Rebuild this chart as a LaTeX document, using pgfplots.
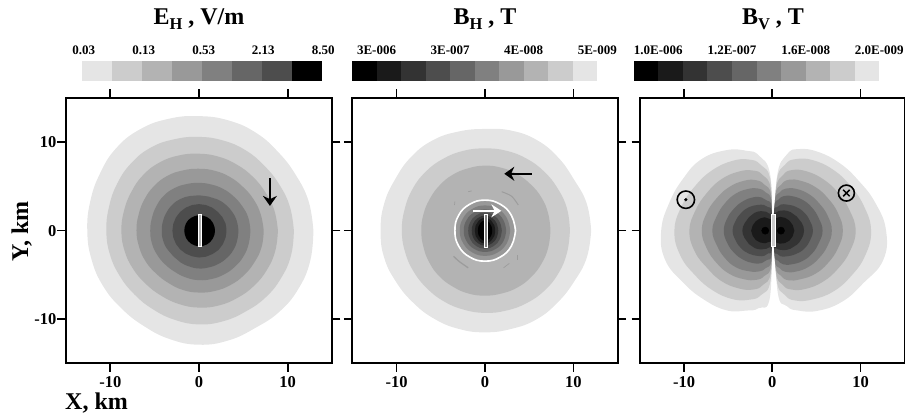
\documentclass[border=0pt]{standalone}
\usepackage{fontspec}
\setmainfont{Liberation Serif}
\usepackage{pgfplots}
\usepackage{pgfplotstable}
\pgfplotsset{compat=1.18}
\usetikzlibrary{arrows.meta}
\definecolor{g1}{HTML}{E5E5E5}
\definecolor{g2}{HTML}{CCCCCC}
\definecolor{g3}{HTML}{B3B3B3}
\definecolor{g4}{HTML}{999999}
\definecolor{g5}{HTML}{808080}
\definecolor{g6}{HTML}{666666}
\definecolor{g7}{HTML}{4D4D4D}
\definecolor{g8}{HTML}{333333}
\definecolor{g9}{HTML}{1A1A1A}
\definecolor{g0}{HTML}{000000}

% Panel 1: contour radius (km) against angle (deg)
\pgfplotstableread{
theta c1 c2 c3 c4 c5 c6 c7 c8
0 12.9 10.7 8.9 7.3 5.8 4.45 3.1 1.8
15 12.8 10.6 8.8 7.2 5.75 4.4 3.1 1.8
30 12.6 10.45 8.65 7.1 5.6 4.3 3.05 1.8
45 12.6 10.4 8.6 7.0 5.5 4.2 3.0 1.8
60 12.8 10.5 8.6 7.0 5.45 4.1 3.0 1.78
75 12.9 10.55 8.65 7.0 5.4 4.0 3.0 1.75
90 12.95 10.6 8.7 7.0 5.4 4.0 3.0 1.75
105 13.1 10.7 8.8 7.05 5.45 4.05 3.0 1.72
120 13.25 10.85 8.9 7.15 5.55 4.15 3.0 1.7
135 13.2 10.8 8.9 7.15 5.6 4.2 3.0 1.7
150 12.9 10.65 8.8 7.1 5.55 4.2 3.0 1.68
165 12.7 10.5 8.75 7.05 5.5 4.2 3.0 1.66
180 12.6 10.45 8.75 7.05 5.5 4.2 3.0 1.66
195 12.55 10.4 8.7 7.0 5.5 4.2 3.0 1.66
210 12.5 10.3 8.6 6.95 5.45 4.15 3.0 1.68
225 12.4 10.25 8.5 6.85 5.4 4.1 3.0 1.7
240 12.45 10.3 8.5 6.85 5.4 4.15 3.0 1.72
255 12.7 10.45 8.6 6.95 5.5 4.2 3.0 1.75
270 12.9 10.6 8.7 7.0 5.6 4.28 3.04 1.75
285 12.85 10.6 8.75 7.05 5.65 4.3 3.05 1.78
300 12.7 10.55 8.75 7.1 5.7 4.35 3.05 1.8
315 12.9 10.65 8.8 7.15 5.75 4.4 3.1 1.8
330 13.0 10.7 8.85 7.2 5.8 4.45 3.1 1.8
345 13.0 10.75 8.9 7.3 5.8 4.45 3.1 1.8
360 12.9 10.7 8.9 7.3 5.8 4.45 3.1 1.8
}\tabA
% Panel 2: outer contours
\pgfplotstableread{
theta c1 c2 c3
0 12.0 9.6 7.4
15 11.9 9.6 7.4
30 11.6 9.5 7.4
45 11.7 9.45 7.35
60 11.8 9.4 7.35
75 11.7 9.35 7.35
90 11.5 9.3 7.35
105 11.6 9.35 7.3
120 11.8 9.4 7.3
135 11.8 9.45 7.25
150 11.7 9.45 7.2
165 11.8 9.4 7.2
180 11.8 9.4 7.2
195 11.8 9.35 7.2
210 11.6 9.3 7.25
225 11.5 9.25 7.3
240 11.5 9.25 7.3
255 11.5 9.25 7.35
270 11.5 9.3 7.35
285 11.5 9.35 7.35
300 11.6 9.45 7.4
315 11.55 9.55 7.4
330 11.6 9.6 7.4
345 11.9 9.6 7.4
360 12.0 9.6 7.4
}\tabB
% Panel 2: contours inside the ring
\pgfplotstableread{
theta ring c4 c5 c6 c7 c8 c9 c10
0 3.45 3.35 2.85 2.4 1.9 1.5 1.15 0.8
30 3.45 3.35 2.85 2.4 1.93 1.55 1.22 0.87
60 3.45 3.35 2.85 2.4 2.0 1.63 1.35 1.03
90 3.45 3.35 2.85 2.4 2.05 1.7 1.45 1.15
120 3.45 3.35 2.85 2.4 2.0 1.63 1.35 1.03
150 3.45 3.35 2.85 2.4 1.93 1.55 1.22 0.87
180 3.4 3.3 2.85 2.4 1.9 1.5 1.15 0.8
210 3.45 3.35 2.85 2.4 1.93 1.55 1.22 0.87
240 3.45 3.35 2.85 2.4 2.0 1.63 1.35 1.03
270 3.45 3.35 2.85 2.4 2.05 1.7 1.45 1.15
300 3.45 3.35 2.85 2.4 2.0 1.63 1.35 1.03
330 3.45 3.35 2.85 2.4 1.93 1.55 1.22 0.87
360 3.45 3.35 2.85 2.4 1.9 1.5 1.15 0.8
}\tabC
% Panel 3: right lobe
\pgfplotstableread{
theta c1 c2 c3 c4 c5 c6 c7 c8 c9
0 0.3 0.3 0.3 0.3 0.3 0.3 0.3 0.3 0.3
85 6.2 5.6 4.7 4.0 3.4 2.85 2.3 1.8 1.2
79 8.8 7.6 6.4 5.3 4.4 3.55 2.7 2.05 1.3
72 9.7 8.5 7.2 6.05 5.0 4.1 3.1 2.35 1.5
60 10.3 9.2 7.75 6.5 5.45 4.5 3.4 2.65 1.8
45 10.8 9.75 8.2 6.95 5.85 4.9 3.8 2.95 2.05
30 11.3 10.2 8.6 7.3 6.15 5.2 4.15 3.2 2.25
15 12.1 10.75 9.05 7.7 6.5 5.45 4.4 3.45 2.4
0 12.9 11.2 9.45 8.0 6.75 5.7 4.6 3.6 2.5
-15 13.0 10.9 9.1 7.7 6.5 5.45 4.4 3.45 2.4
-30 11.9 10.3 8.6 7.3 6.15 5.2 4.15 3.2 2.25
-45 11.3 9.75 8.15 6.9 5.8 4.85 3.75 2.9 2.0
-60 10.45 9.0 7.6 6.35 5.35 4.4 3.35 2.55 1.7
-72 9.5 8.3 7.0 5.9 4.9 4.0 3.05 2.25 1.4
-79 8.7 7.4 6.25 5.2 4.3 3.45 2.65 2.0 1.25
-85 7.0 5.6 4.7 4.0 3.4 2.85 2.3 1.8 1.2
0 0.3 0.3 0.3 0.3 0.3 0.3 0.3 0.3 0.3
}\tabD
% Panel 3: left lobe
\pgfplotstableread{
theta c1 c2 c3 c4 c5 c6 c7 c8 c9
180 0.1 0.1 0.1 0.1 0.1 0.1 0.1 0.1 0.1
92 6.2 5.6 4.7 4.0 3.4 2.8 2.25 1.7 1.15
100 8.6 7.55 6.4 5.3 4.4 3.45 2.7 1.95 1.3
108 9.5 8.45 7.15 6.0 5.0 3.95 3.05 2.25 1.45
120 10.5 9.1 7.7 6.5 5.45 4.35 3.35 2.55 1.75
135 11.4 9.65 8.2 6.95 5.9 4.7 3.75 2.85 1.95
150 11.7 10.1 8.55 7.3 6.2 5.0 4.05 3.05 2.15
165 12.1 10.65 9.0 7.7 6.5 5.3 4.3 3.25 2.3
180 12.6 11.1 9.4 8.0 6.8 5.5 4.5 3.4 2.4
195 12.6 10.8 9.1 7.7 6.5 5.3 4.3 3.25 2.3
210 11.7 10.1 8.5 7.3 6.2 5.0 4.05 3.05 2.15
225 11.0 9.55 8.1 6.9 5.85 4.65 3.7 2.8 1.9
240 10.4 8.95 7.55 6.35 5.3 4.25 3.3 2.45 1.65
252 9.5 8.2 7.0 5.85 4.85 3.85 3.0 2.15 1.35
260 8.9 7.4 6.25 5.2 4.3 3.35 2.6 1.9 1.25
268 7.5 5.6 4.7 4.0 3.4 2.8 2.25 1.7 1.15
180 0.1 0.1 0.1 0.1 0.1 0.1 0.1 0.1 0.1
}\tabE

\pgfplotsset{
  panel/.style={
    scale only axis, height=265.3pt,
    xmin=-15, xmax=15, ymin=-15, ymax=15,
    axis line style={line width=1.7pt},
    tick align=outside, major tick length=8.5pt,
    tick style={line width=1.7pt, black},
    xtick={-10,0,10}, ytick={-10,0,10},
    xticklabels={-10,0,10},
    yticklabels={},
    xticklabel pos=lower,
    tick label style={font=\bfseries\fontsize{16.5}{18}\selectfont},
    xticklabel style={yshift=-1.5pt},
    axis on top, clip=true,
  },
  bar/.style={
    scale only axis, height=20pt, hide axis, clip=false,
    ymin=0, ymax=1,
  },
  cf/.style={draw=none, fill=#1, smooth, tension=0.75, data cs=polar},
  cell/.style={draw=none, fill=#1},
}
\newcommand{\cellat}[3]{\addplot[cell=#3] coordinates {(#1,0) (#2,0) (#2,1) (#1,1)} --cycle;}
\newcommand{\barlabel}[2]{\node[anchor=base, font=\bfseries\fontsize{13}{14}\selectfont, inner sep=0pt] at (axis cs:#1,1.32) {#2};}

\begin{document}
\begin{tikzpicture}[x=1pt,y=1pt]
\path[use as bounding box] (0pt,0pt) rectangle (905pt,417pt);

% ---------- colour bars
\begin{axis}[bar, at={(81.7pt,336.3pt)}, width=240pt, xmin=0, xmax=8]
\cellat{0}{1}{g1}\cellat{1}{2}{g2}\cellat{2}{3}{g3}\cellat{3}{4}{g4}
\cellat{4}{5}{g5}\cellat{5}{6}{g6}\cellat{6}{7}{g7}\cellat{7}{8}{g0}
\barlabel{0.07}{0.03}\barlabel{2.07}{0.13}\barlabel{4.07}{0.53}\barlabel{6.05}{2.13}\barlabel{8.05}{8.50}
\end{axis}
\begin{axis}[bar, at={(352pt,336.3pt)}, width=245.3pt, xmin=0, xmax=10]
\cellat{0}{1}{g0}\cellat{1}{2}{g9}\cellat{2}{3}{g8}\cellat{3}{4}{g7}\cellat{4}{5}{g6}
\cellat{5}{6}{g5}\cellat{6}{7}{g4}\cellat{7}{8}{g3}\cellat{8}{9}{g2}\cellat{9}{10}{g1}
\barlabel{1}{3E-006}\barlabel{4}{3E-007}\barlabel{7}{4E-008}\barlabel{10}{5E-009}
\end{axis}
\begin{axis}[bar, at={(633.7pt,336.3pt)}, width=245.6pt, xmin=0, xmax=10]
\cellat{0}{1}{g0}\cellat{1}{2}{g9}\cellat{2}{3}{g8}\cellat{3}{4}{g7}\cellat{4}{5}{g6}
\cellat{5}{6}{g5}\cellat{6}{7}{g4}\cellat{7}{8}{g3}\cellat{8}{9}{g2}\cellat{9}{10}{g1}
\barlabel{1}{1.0E-006}\barlabel{4}{1.2E-007}\barlabel{7}{1.6E-008}\barlabel{10}{2.0E-009}
\end{axis}

% ---------- panel 1
\begin{axis}[panel, at={(66pt,53.7pt)}, width=266pt,
    yticklabels={-10,0,10},
    yticklabel style={inner sep=1pt}]
\addplot[cf=g1] table[x=theta,y=c1]{\tabA} --cycle;
\addplot[cf=g2] table[x=theta,y=c2]{\tabA} --cycle;
\addplot[cf=g3] table[x=theta,y=c3]{\tabA} --cycle;
\addplot[cf=g4] table[x=theta,y=c4]{\tabA} --cycle;
\addplot[cf=g5] table[x=theta,y=c5]{\tabA} --cycle;
\addplot[cf=g6] table[x=theta,y=c6]{\tabA} --cycle;
\addplot[cf=g7] table[x=theta,y=c7]{\tabA} --cycle;
\addplot[cf=g0] table[x=theta,y=c8]{\tabA} --cycle;
\addplot[draw=white, fill=g3, line width=0.8pt] coordinates {(-0.08,1.87) (0.3,1.87) (0.3,-1.83) (-0.08,-1.83)} --cycle;
\addplot[black, line width=2.2pt, -{Stealth[length=10pt,width=14pt]}] coordinates {(8.0,5.9) (8.0,2.8)};
\end{axis}

% ---------- panel 2
\begin{axis}[panel, at={(352.3pt,53.7pt)}, width=265.4pt]
\addplot[cf=g1] table[x=theta,y=c1]{\tabB} --cycle;
\addplot[cf=g2] table[x=theta,y=c2]{\tabB} --cycle;
\addplot[cf=g3] table[x=theta,y=c3]{\tabB} --cycle;
\addplot[color=g4!90!g3, line width=1pt, smooth] coordinates {(1.89,4.4) (3.0,3.9) (3.76,2.9)};
\addplot[color=g4!90!g3, line width=1.3pt, smooth] coordinates {(-3.55,-2.9) (-2.9,-3.5) (-1.9,-4.2)};
\addplot[color=g4!90!g3, line width=0.7pt] coordinates {(3.6,-2.8) (3.6,-3.3)};
\addplot[color=g4!90!g3, line width=0.7pt] coordinates {(2.1,-4.2) (2.75,-3.7)};
\addplot[color=g4!90!g3, line width=0.7pt] coordinates {(-3.4,3.3) (-3.45,2.9)};
\addplot[color=g4!90!g3, line width=0.7pt] coordinates {(-1.9,4.4) (-1.5,4.5)};
\addplot[cf=g4] table[x=theta,y=c4]{\tabC} --cycle;
\addplot[cf=g5] table[x=theta,y=c5]{\tabC} --cycle;
\addplot[cf=g6] table[x=theta,y=c6]{\tabC} --cycle;
\addplot[cf=g7] table[x=theta,y=c7]{\tabC} --cycle;
\addplot[cf=g8] table[x=theta,y=c8]{\tabC} --cycle;
\addplot[cf=g9] table[x=theta,y=c9]{\tabC} --cycle;
\addplot[cf=g0] table[x=theta,y=c10]{\tabC} --cycle;
\addplot[white, line width=1.6pt, smooth, tension=0.75, data cs=polar] table[x=theta,y=ring]{\tabC} --cycle;
\addplot[draw=white, fill=g5, line width=0.8pt] coordinates {(-0.08,1.8) (0.3,1.8) (0.3,-1.87) (-0.08,-1.87)} --cycle;
\addplot[white, line width=2.6pt, -{Stealth[length=10pt,width=13pt]}] coordinates {(-1.32,2.24) (1.85,2.24)};
\addplot[black, line width=2.2pt, -{Stealth[length=10pt,width=14pt]}] coordinates {(5.28,6.43) (2.18,6.43)};
\end{axis}

% ---------- panel 3
\begin{axis}[panel, at={(640pt,53.7pt)}, width=264.6pt, ytick pos=left]
\addplot[cf=g1] table[x=theta,y=c1]{\tabD} --cycle;
\addplot[cf=g2] table[x=theta,y=c2]{\tabD} --cycle;
\addplot[cf=g3] table[x=theta,y=c3]{\tabD} --cycle;
\addplot[cf=g4] table[x=theta,y=c4]{\tabD} --cycle;
\addplot[cf=g5] table[x=theta,y=c5]{\tabD} --cycle;
\addplot[cf=g6] table[x=theta,y=c6]{\tabD} --cycle;
\addplot[cf=g7] table[x=theta,y=c7]{\tabD} --cycle;
\addplot[cf=g8] table[x=theta,y=c8]{\tabD} --cycle;
\addplot[cf=g9] table[x=theta,y=c9]{\tabD} --cycle;
\addplot[cf=g1] table[x=theta,y=c1]{\tabE} --cycle;
\addplot[cf=g2] table[x=theta,y=c2]{\tabE} --cycle;
\addplot[cf=g3] table[x=theta,y=c3]{\tabE} --cycle;
\addplot[cf=g4] table[x=theta,y=c4]{\tabE} --cycle;
\addplot[cf=g5] table[x=theta,y=c5]{\tabE} --cycle;
\addplot[cf=g6] table[x=theta,y=c6]{\tabE} --cycle;
\addplot[cf=g7] table[x=theta,y=c7]{\tabE} --cycle;
\addplot[cf=g8] table[x=theta,y=c8]{\tabE} --cycle;
\addplot[cf=g9] table[x=theta,y=c9]{\tabE} --cycle;
\addplot[only marks, mark=*, mark size=3.6pt, mark options={draw=g0, fill=g0}] coordinates {(-0.8,0) (0.98,0)};
\addplot[draw=white, fill=g2, line width=0.8pt] coordinates {(-0.05,1.87) (0.34,1.87) (0.34,-1.83) (-0.05,-1.83)} --cycle;
\addplot[only marks, mark=o, mark size=8.7pt, mark options={line width=1.6pt, black}] coordinates {(-9.8,3.5)};
\addplot[only marks, mark=*, mark size=1.4pt, mark options={black}] coordinates {(-9.8,3.5)};
\addplot[only marks, mark=o, mark size=8pt, mark options={line width=1.6pt, black}] coordinates {(8.4,4.25)};
\addplot[only marks, mark=x, mark size=4.6pt, mark options={line width=1.5pt, black}] coordinates {(8.4,4.25)};
\end{axis}

% ---------- titles and axis names
\def\ttl{\bfseries\fontsize{24}{26}\selectfont}
\node[anchor=base, inner sep=0pt, font=\ttl] at (199pt,392pt) {E\raisebox{-4.5pt}{\fontsize{16.5}{18}\selectfont H} , V/m};
\node[anchor=base, inner sep=0pt, font=\ttl] at (485pt,392pt) {B\raisebox{-4.5pt}{\fontsize{16.5}{18}\selectfont H} , T};
\node[anchor=base, inner sep=0pt, font=\ttl] at (773pt,392pt) {B\raisebox{-4.5pt}{\fontsize{16.5}{18}\selectfont V} , T};
\node[anchor=base west, inner sep=0pt, font=\ttl] at (65pt,7pt) {X, km};
\node[anchor=base, rotate=90, inner sep=0pt, font=\ttl] at (28pt,185.5pt) {Y, km};
\end{tikzpicture}
\end{document}
